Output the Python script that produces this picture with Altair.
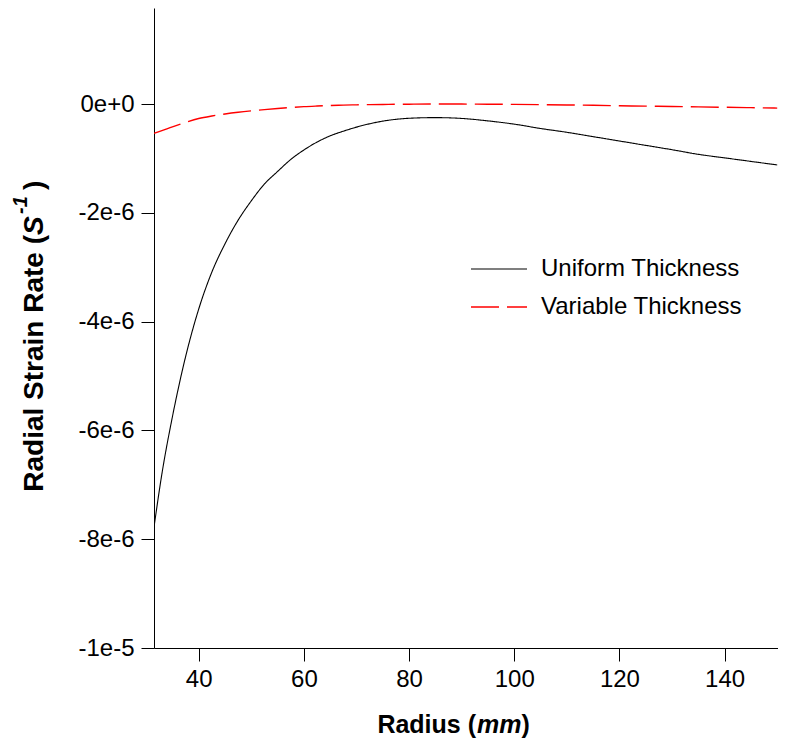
import altair as alt
import pandas as pd

# ---- data (strain rate in units of 1e-6 1/s) ----
radius = [31.5, 33, 35, 37, 40, 42.5, 45, 47.5, 50, 52.5, 55, 57.5, 60, 62.5, 65,
          67.5, 70, 75, 80, 85, 90, 95, 100, 105, 110, 115, 120, 125, 130, 135,
          140, 145, 150]
uniform = [-7.78, -6.8, -5.75, -4.85, -3.77, -3.09, -2.57, -2.135, -1.78, -1.47,
           -1.24, -1.02, -0.845, -0.70, -0.585, -0.50, -0.425, -0.315, -0.262,
           -0.25, -0.265, -0.31, -0.37, -0.45, -0.52, -0.60, -0.68, -0.76, -0.84,
           -0.925, -0.99, -1.055, -1.12]
variable = [-0.54, -0.49, -0.42, -0.355, -0.267, -0.22, -0.183, -0.152, -0.126,
            -0.103, -0.082, -0.064, -0.048, -0.037, -0.028, -0.021, -0.015, -0.008,
            -0.003, 0.0, -0.001, -0.003, -0.007, -0.012, -0.017, -0.024, -0.032,
            -0.039, -0.046, -0.053, -0.060, -0.067, -0.075]
UNIT = 1e-6

series_names = ["Uniform Thickness", "Variable Thickness"]
series_colors = ["#000000", "#ff0000"]
series_dash = [[1, 0], [28, 8]]
series_width = [1.1, 1.4]

x_ticks = [40, 60, 80, 100, 120, 140]
y_ticks = [0, -2e-6, -4e-6, -6e-6, -8e-6, -1e-5]
y_tick_labels = ["0e+0", "-2e-6", "-4e-6", "-6e-6", "-8e-6", "-1e-5"]

rows = []
for r, u in zip(radius, uniform):
    rows.append({"radius": r, "rate": u * UNIT, "series": series_names[0]})
for r, v in zip(radius, variable):
    rows.append({"radius": r, "rate": v * UNIT, "series": series_names[1]})
df = pd.DataFrame(rows)

FONT = "Liberation Sans"
W, H = 624, 640

label_expr = "[" + ",".join("'%s'" % s for s in y_tick_labels) + "][round(-datum.value/2e-6)]"

legend_opts = dict(title=None, orient="none", legendX=316, legendY=249,
                   symbolType="stroke", symbolSize=3136, symbolStrokeWidth=1.2,
                   labelFontSize=24, labelFont=FONT, labelOffset=13, labelLimit=0,
                   clipHeight=24, rowPadding=14, padding=0, labelColor="#000000")

lines = alt.Chart(df).mark_line(interpolate="monotone", clip=True).encode(
    x=alt.X("radius:Q",
            scale=alt.Scale(domain=[31.5, 150.15], nice=False, zero=False),
            axis=alt.Axis(values=x_ticks, title=None, format="d",
                          labelFontSize=24, labelPadding=6, tickSize=13)),
    y=alt.Y("rate:Q",
            scale=alt.Scale(domain=[-1e-5, 1.765e-6], nice=False, zero=False),
            axis=alt.Axis(values=y_ticks, title=None, labelExpr=label_expr,
                          labelFontSize=24, labelPadding=7, tickSize=13)),
    color=alt.Color("series:N",
                    scale=alt.Scale(domain=series_names, range=series_colors),
                    legend=alt.Legend(**legend_opts)),
    strokeDash=alt.StrokeDash("series:N",
                              scale=alt.Scale(domain=series_names, range=series_dash),
                              legend=alt.Legend(**legend_opts)),
    strokeWidth=alt.StrokeWidth("series:N",
                                scale=alt.Scale(domain=series_names, range=series_width),
                                legend=None),
    order=alt.Order("radius:Q"),
)

def txt(text, x, y, size, style="normal", align="left", angle=0):
    return alt.Chart(pd.DataFrame({"t": [text]})).mark_text(
        font=FONT, fontSize=size, fontWeight="bold", fontStyle=style,
        align=align, baseline="alphabetic", angle=angle, color="#000000"
    ).encode(x=alt.value(x), y=alt.value(y), text="t:N")

# x-axis title: Radius (mm)
xt = [
    txt("Radius (", 322, 725, 25, align="right"),
    txt("mm", 323, 725, 25, style="italic"),
    txt(")", 367.5, 725, 25),
]
# y-axis title: Radial Strain Rate (S^-1)
yt = [
    txt("Radial Strain Rate (", -111, 227, 28, align="right", angle=270),
    txt("S", -111, 227, 28, style="italic", angle=270),
    txt("-1", -127, 206, 20, style="italic", angle=270),
    txt(")", -111, 182, 28, angle=270),
]

chart = alt.layer(lines, *xt, *yt).properties(
    width=W, height=H,
    autosize=alt.AutoSizeParams(type="none"),
    padding={"left": 146, "top": 0, "right": 0, "bottom": 95},
).configure_view(stroke=None).configure_axis(
    grid=False, domainColor="#000000", tickColor="#000000", labelColor="#000000",
    domainWidth=1, tickWidth=1, labelFont=FONT,
)

chart.save("out.html", embed_options={"renderer": "svg", "actions": False})
